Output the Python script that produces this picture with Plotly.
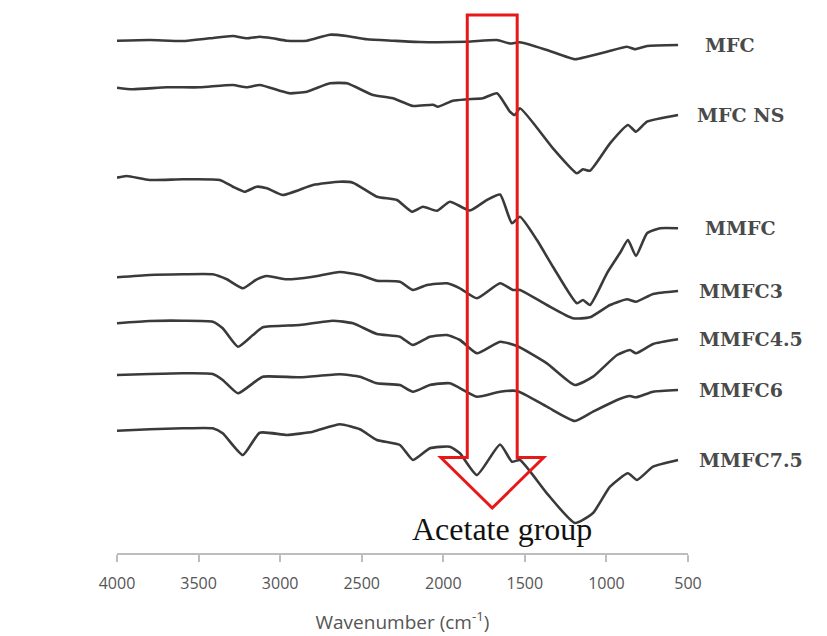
import plotly.graph_objects as go

# ---- data (transmittance, arbitrary offset units) ----
names = ["MFC", "MFC NS", "MMFC", "MMFC3", "MMFC4.5", "MMFC6", "MMFC7.5"]

wn_mfc = [4000, 3800, 3597, 3432, 3290, 3204, 3125, 3045, 2959, 2836, 2695, 2591, 2468, 2309, 2143, 1855, 1671, 1591, 1530, 1365, 1193, 1119, 997, 874, 825, 751, 561]
t_mfc = [512.3, 513, 512, 514.7, 517, 514.7, 516.3, 514.7, 512.3, 512.3, 518.3, 517, 513.7, 512.3, 511, 511.3, 513, 509.5, 510.7, 503, 493.7, 496.3, 501.3, 506.3, 503.7, 507, 508]

wn_mfcns = [4000, 3904, 3695, 3493, 3290, 3204, 3125, 3002, 2941, 2836, 2695, 2591, 2431, 2309, 2186, 2064, 2033, 1941, 1855, 1757, 1671, 1591, 1561, 1530, 1328, 1181, 1144, 1101, 978, 868, 819, 751, 561]
t_mfcns = [465.3, 463.7, 465.7, 465.7, 468, 465.7, 468, 462.3, 459.7, 461.3, 469.7, 469.7, 458, 454.7, 447, 448.3, 446.3, 452.3, 453.7, 454.7, 459.7, 441.3, 438, 444.7, 404.7, 379.7, 383.7, 382.3, 409.7, 428, 421.3, 431.3, 438]

wn_mmfc = [4000, 3941, 3800, 3597, 3370, 3290, 3217, 3143, 3081, 2983, 2799, 2634, 2554, 2407, 2284, 2192, 2125, 2039, 1960, 1837, 1733, 1652, 1579, 1530, 1426, 1328, 1181, 1144, 1101, 997, 917, 868, 819, 751, 671, 561]
t_mmfc = [375.3, 377, 373, 373.7, 373, 366.3, 361.3, 366.3, 364.7, 358, 368, 371.3, 370.3, 356.3, 353, 341.3, 346.3, 342.3, 351.3, 342.5, 353, 358.5, 329.7, 336.3, 313, 286.3, 249.7, 253, 248, 279.7, 300, 313, 297, 319.7, 324.7, 324.7]

wn_mmfc3 = [4000, 3800, 3597, 3413, 3327, 3229, 3143, 3081, 2959, 2799, 2634, 2511, 2407, 2266, 2186, 2100, 1978, 1898, 1794, 1652, 1573, 1530, 1365, 1205, 1101, 978, 874, 819, 714, 561]
t_mmfc3 = [275.7, 278, 278.7, 278.7, 273.7, 264.7, 273.7, 277, 273.7, 276.3, 281, 278, 272.3, 271.3, 263, 268, 269.7, 264.7, 254.7, 269.7, 263, 263, 248, 234.7, 235.7, 248, 253.7, 251.3, 259, 262]

wn_mmfc45 = [4000, 3800, 3597, 3413, 3352, 3259, 3167, 3106, 2879, 2677, 2554, 2407, 2266, 2186, 2082, 1978, 1898, 1794, 1652, 1548, 1365, 1193, 1082, 935, 856, 819, 714, 561]
t_mmfc45 = [229.7, 232, 232.3, 231.3, 224.7, 206.3, 218, 225.7, 228, 232.3, 229.7, 219, 216.3, 208, 216.3, 218, 213, 199.7, 211.3, 207, 189.7, 168, 176.3, 198, 203, 199.7, 209, 213.7]

wn_mmfc6 = [4000, 3800, 3597, 3413, 3352, 3259, 3167, 3106, 2879, 2634, 2511, 2407, 2266, 2186, 2082, 1960, 1794, 1652, 1548, 1365, 1193, 1082, 935, 856, 819, 714, 561]
t_mmfc6 = [178, 179, 179.7, 179, 173, 159.7, 169.7, 176.3, 175.7, 178.7, 176.3, 169.7, 168, 161.3, 168, 169.7, 156.3, 161.3, 162, 146.3, 132, 141.3, 153, 157, 155.7, 161.3, 163]

wn_mmfc75 = [4000, 3800, 3597, 3413, 3352, 3229, 3125, 2959, 2799, 2634, 2511, 2407, 2266, 2186, 2082, 1960, 1898, 1794, 1652, 1579, 1530, 1365, 1193, 1082, 978, 868, 813, 714, 561]
t_mmfc75 = [122.3, 123.7, 124.7, 124.7, 119.7, 98, 120.3, 118, 121.3, 128.7, 123.7, 113, 108, 93, 104.7, 106.3, 99.7, 78, 108.5, 91.3, 93, 59.7, 30, 40, 66.3, 79.7, 73, 86.3, 93]

tick_vals = [4000, 3500, 3000, 2500, 2000, 1500, 1000, 500]

# acetate arrow (wavenumber centre / half-widths, and vertical levels in same units)
arrow_center = 1700
arrow_shaft_half = 153
arrow_head_half = 315
arrow_top, arrow_neck, arrow_tip = 538, 95.5, 45
acetate_label = "Acetate group"

series = [
    (wn_mfc, t_mfc), (wn_mfcns, t_mfcns), (wn_mmfc, t_mmfc), (wn_mmfc3, t_mmfc3),
    (wn_mmfc45, t_mmfc45), (wn_mmfc6, t_mmfc6), (wn_mmfc75, t_mmfc75),
]
label_shift = [6, -2, 6, 0, 0, 0, 0]

fig = go.Figure()
for name, (x, y) in zip(names, series):
    fig.add_trace(go.Scatter(
        x=x, y=y, mode="lines", name=name,
        line=dict(color="#3a3a3a", width=2.6, shape="spline", smoothing=0.5),
        showlegend=False,
    ))

for i, (name, (x, y)) in enumerate(zip(names, series)):
    fig.add_annotation(
        x=1.0158, xref="paper", y=y[-1], yref="y", text=name, showarrow=False,
        xanchor="left", yanchor="middle", xshift=label_shift[i],
        font=dict(family="DejaVu Serif", size=19, color="#4a4a4a", weight="bold"),
    )

c = arrow_center
path = (f"M {c - arrow_shaft_half},{arrow_top} L {c + arrow_shaft_half},{arrow_top} "
        f"L {c + arrow_shaft_half},{arrow_neck} L {c + arrow_head_half},{arrow_neck} "
        f"L {c},{arrow_tip} L {c - arrow_head_half},{arrow_neck} "
        f"L {c - arrow_shaft_half},{arrow_neck} Z")
fig.add_shape(type="path", path=path, xref="x", yref="y",
              line=dict(color="#e81818", width=3), fillcolor="rgba(0,0,0,0)", layer="above")

fig.add_annotation(
    x=1642, y=24, xref="x", yref="y", text=acetate_label, showarrow=False,
    xanchor="center", yanchor="middle",
    font=dict(family="Liberation Serif", size=32, color="#111111"),
)

fig.update_layout(
    width=827, height=636,
    margin=dict(l=117, r=139, t=0, b=83),
    paper_bgcolor="white", plot_bgcolor="white",
    xaxis=dict(
        range=[4000, 500], tickvals=tick_vals, ticktext=[str(v) for v in tick_vals],
        showgrid=False, zeroline=False, showline=True, linecolor="#bdbdbd", linewidth=2,
        ticks="outside", ticklen=7, tickwidth=2, tickcolor="#bdbdbd",
        ticklabelstandoff=8,
        tickfont=dict(family="Open Sans", size=16, color="#555555"),
        title=dict(text="Wavenumber (cm<sup>-1</sup>)", standoff=22,
                   font=dict(family="Open Sans", size=19, color="#555555")),
    ),
    yaxis=dict(range=[0, 553], visible=False, showgrid=False, zeroline=False),
)

fig.write_html("out.html")
